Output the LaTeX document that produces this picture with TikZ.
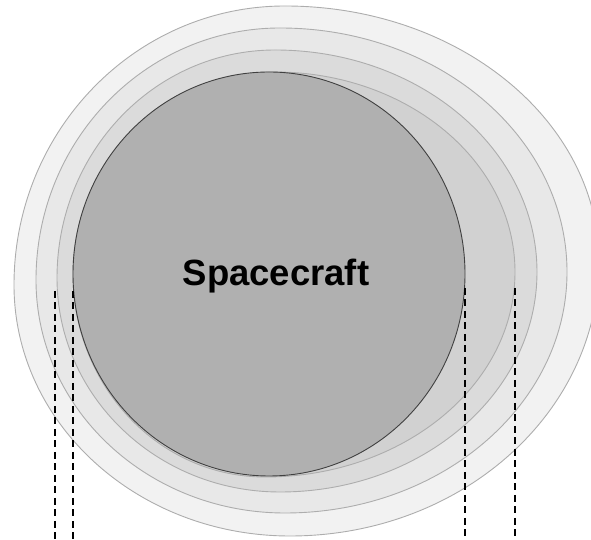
\documentclass[tikz,border=0pt]{standalone}
\usepackage{fontspec}
\newfontfamily\labelfont{Liberation Sans}
\usepackage{tikz}

\begin{document}
\begin{tikzpicture}[x=1pt, y=1pt,
		shell/.style={draw=black!32, line width=0.9pt},
		cut/.style={draw=black, line width=1.8pt, dash pattern=on 7pt off 4.5pt}]
			\useasboundingbox (0,0) rectangle (591,540);
			
			% outer shells, largest first
			\draw[shell, fill=black!5] (14,255) arc[start angle=180, end angle=90, x radius=271pt, y radius=279pt]
				arc[start angle=90, end angle=0, x radius=314pt, y radius=256pt]
				arc[start angle=0, end angle=-90, x radius=309pt, y radius=274pt]
				arc[start angle=-90, end angle=-180, x radius=276pt, y radius=251pt] -- cycle;
			\draw[shell, fill=black!9] (36,260) arc[start angle=180, end angle=90, x radius=244pt, y radius=252pt]
				arc[start angle=90, end angle=0, x radius=287pt, y radius=244pt]
				arc[start angle=0, end angle=-90, x radius=282pt, y radius=241pt]
				arc[start angle=-90, end angle=-180, x radius=249pt, y radius=233pt] -- cycle;
			\draw[shell, fill=black!14] (57,262) arc[start angle=180, end angle=90, x radius=218pt, y radius=228pt]
				arc[start angle=90, end angle=0, x radius=262pt, y radius=222pt]
				arc[start angle=0, end angle=-90, x radius=257pt, y radius=220pt]
				arc[start angle=-90, end angle=-180, x radius=223pt, y radius=214pt] -- cycle;
			\draw[shell, fill=black!18] (73,266) arc[start angle=180, end angle=90, x radius=202pt, y radius=202pt]
				arc[start angle=90, end angle=0, x radius=240pt, y radius=200pt]
				arc[start angle=0, end angle=-90, x radius=250pt, y radius=205pt]
				arc[start angle=-90, end angle=-180, x radius=192pt, y radius=203pt] -- cycle;
			
			% the craft itself
			\draw[draw=black!75, line width=0.9pt, fill=black!31] (269,266) ellipse[x radius=196pt, y radius=202pt];
			\node[font=\labelfont\bfseries\fontsize{36.5}{40}\selectfont, anchor=base] (craft) at (276,254) {Spacecraft};
			
			\coordinate (l1) at (55,249);
			\coordinate (l2) at (73,249);
			\coordinate (r1) at (465,252);
			\coordinate (r2) at (515,252);
			\coordinate (l1b) at (55,0);
			\coordinate (l2b) at (73,0);
			\coordinate (r1b) at (465,0);
			\coordinate (r2b) at (515,0);
			
			\draw[cut] (l1) -- (l1b);
			\draw[cut] (l2) -- (l2b);
			\draw[cut] (r1) -- (r1b);
			\draw[cut] (r2) -- (r2b);
		\end{tikzpicture}
\end{document}
